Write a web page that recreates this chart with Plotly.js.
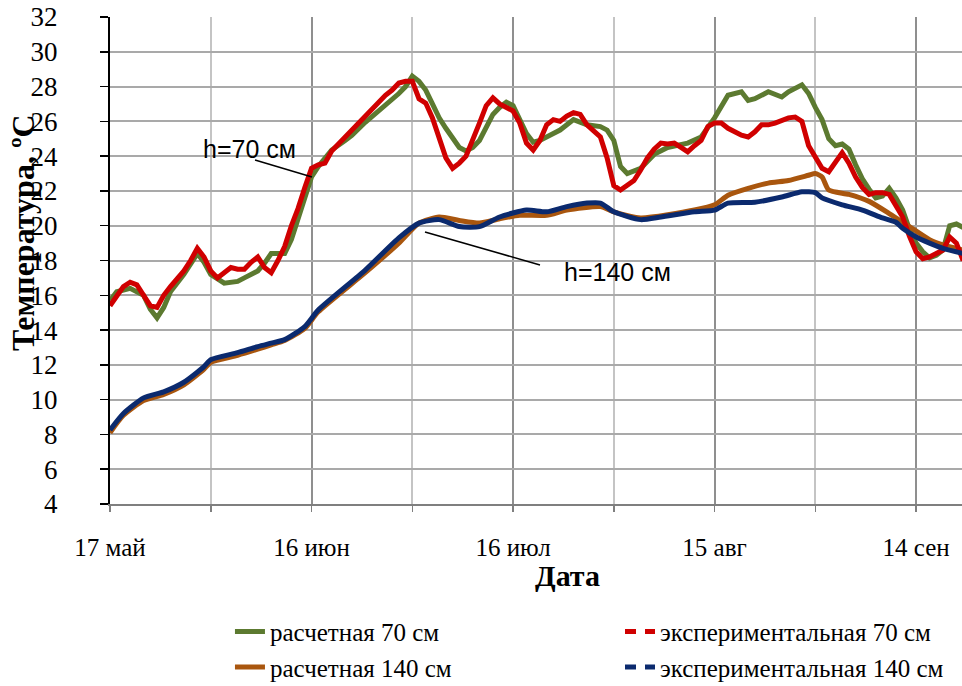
<!DOCTYPE html>
<html>
<head>
<meta charset="utf-8">
<script src="https://cdn.plot.ly/plotly-3.0.1.min.js"></script>
<style>html,body{margin:0;padding:0;background:#fff;}#chart{width:962px;height:686px;}</style>
</head>
<body>
<div id="chart"></div>
<script>
// ---- data ----
const calc70Dates = ['2013-05-17','2013-05-18','2013-05-20','2013-05-22','2013-05-23','2013-05-24','2013-05-25','2013-05-26','2013-05-28','2013-05-29','2013-05-30','2013-05-31','2013-06-01','2013-06-03','2013-06-05','2013-06-06','2013-06-08','2013-06-09','2013-06-10','2013-06-12','2013-06-13','2013-06-14','2013-06-15','2013-06-16','2013-06-17','2013-06-19','2013-06-21','2013-06-22','2013-06-24','2013-06-27','2013-06-29','2013-06-30','2013-07-01','2013-07-02','2013-07-03','2013-07-04','2013-07-05','2013-07-06','2013-07-07','2013-07-08','2013-07-09','2013-07-10','2013-07-11','2013-07-12','2013-07-13','2013-07-14','2013-07-15','2013-07-16','2013-07-17','2013-07-18','2013-07-19','2013-07-20','2013-07-22','2013-07-23','2013-07-25','2013-07-27','2013-07-29','2013-07-30','2013-07-31','2013-08-01','2013-08-02','2013-08-04','2013-08-06','2013-08-08','2013-08-11','2013-08-13','2013-08-15','2013-08-16','2013-08-17','2013-08-19','2013-08-20','2013-08-21','2013-08-23','2013-08-25','2013-08-26','2013-08-28','2013-08-29','2013-08-30','2013-08-31','2013-09-01','2013-09-02','2013-09-03','2013-09-04','2013-09-05','2013-09-06','2013-09-07','2013-09-08','2013-09-09','2013-09-10','2013-09-11','2013-09-12','2013-09-13','2013-09-14','2013-09-15','2013-09-16','2013-09-17','2013-09-18','2013-09-19','2013-09-20','2013-09-21'];
const calc70Vals = [15.7,16.2,16.4,16.0,15.2,14.7,15.3,16.2,17.2,17.8,18.4,17.9,17.2,16.7,16.8,17.0,17.4,17.85,18.4,18.4,19.2,20.4,21.65,22.8,23.4,24.35,24.9,25.2,25.95,26.9,27.6,28.0,28.6,28.3,27.8,27.0,26.2,25.6,25.0,24.5,24.3,24.5,24.9,25.7,26.4,26.8,27.1,26.9,26.1,25.3,24.8,24.9,25.3,25.5,26.1,25.8,25.7,25.5,24.9,23.4,23.0,23.3,24.1,24.5,24.75,25.1,26.2,26.8,27.5,27.7,27.2,27.3,27.7,27.4,27.7,28.1,27.6,26.8,26.1,25.0,24.6,24.7,24.4,23.5,22.7,22.1,21.6,21.7,22.15,21.6,20.9,19.8,19.0,18.5,18.15,18.3,18.6,20.0,20.1,19.9];

const exp70Dates = ['2013-05-17','2013-05-18','2013-05-19','2013-05-20','2013-05-21','2013-05-22','2013-05-23','2013-05-24','2013-05-25','2013-05-26','2013-05-27','2013-05-28','2013-05-29','2013-05-30','2013-05-31','2013-06-01','2013-06-02','2013-06-03','2013-06-04','2013-06-05','2013-06-06','2013-06-07','2013-06-08','2013-06-09','2013-06-10','2013-06-11','2013-06-12','2013-06-13','2013-06-14','2013-06-15','2013-06-16','2013-06-17','2013-06-18','2013-06-19','2013-06-20','2013-06-21','2013-06-22','2013-06-23','2013-06-24','2013-06-25','2013-06-26','2013-06-27','2013-06-28','2013-06-29','2013-06-30','2013-07-01','2013-07-02','2013-07-03','2013-07-04','2013-07-05','2013-07-06','2013-07-07','2013-07-08','2013-07-09','2013-07-10','2013-07-11','2013-07-12','2013-07-13','2013-07-14','2013-07-15','2013-07-16','2013-07-17','2013-07-18','2013-07-19','2013-07-20','2013-07-21','2013-07-22','2013-07-23','2013-07-24','2013-07-25','2013-07-26','2013-07-27','2013-07-28','2013-07-29','2013-07-30','2013-07-31','2013-08-01','2013-08-02','2013-08-03','2013-08-04','2013-08-05','2013-08-06','2013-08-07','2013-08-08','2013-08-09','2013-08-10','2013-08-11','2013-08-12','2013-08-13','2013-08-14','2013-08-15','2013-08-16','2013-08-17','2013-08-18','2013-08-19','2013-08-20','2013-08-21','2013-08-22','2013-08-23','2013-08-24','2013-08-26','2013-08-27','2013-08-28','2013-08-29','2013-08-30','2013-08-31','2013-09-01','2013-09-02','2013-09-03','2013-09-04','2013-09-05','2013-09-06','2013-09-07','2013-09-08','2013-09-09','2013-09-10','2013-09-11','2013-09-12','2013-09-13','2013-09-14','2013-09-15','2013-09-16','2013-09-17','2013-09-18','2013-09-19','2013-09-20','2013-09-21'];
const exp70Vals = [15.4,16.0,16.5,16.75,16.6,16.0,15.4,15.3,16.0,16.5,16.9,17.4,18.0,18.7,18.2,17.4,17.0,17.3,17.6,17.5,17.5,17.9,18.2,17.6,17.3,18.0,18.8,20.0,21.0,22.2,23.3,23.5,23.6,24.3,24.7,25.1,25.5,25.9,26.4,26.7,27.1,27.5,27.8,28.2,28.3,28.3,27.3,27.05,26.2,25.0,23.9,23.3,23.6,24.0,24.9,25.9,26.9,27.35,27.0,26.8,26.6,25.9,24.75,24.35,24.9,25.8,26.1,26.0,26.3,26.5,26.4,25.8,25.4,25.1,23.9,22.3,22.05,22.3,22.6,23.2,23.9,24.4,24.75,24.7,24.75,24.5,24.25,24.6,24.9,25.7,25.9,25.9,25.6,25.4,25.2,25.1,25.4,25.8,25.8,25.9,26.2,26.25,26.0,24.6,23.9,23.3,23.1,23.6,24.2,23.6,22.8,22.2,21.8,21.9,21.9,21.8,21.2,20.5,19.4,18.5,18.1,18.2,18.4,18.6,19.35,19.0,18.0];

const calc140Dates = ['2013-05-17','2013-05-19','2013-05-22','2013-05-25','2013-05-28','2013-05-31','2013-06-01','2013-06-05','2013-06-08','2013-06-10','2013-06-12','2013-06-15','2013-06-17','2013-06-24','2013-06-29','2013-07-02','2013-07-05','2013-07-08','2013-07-11','2013-07-14','2013-07-17','2013-07-21','2013-07-24','2013-07-29','2013-07-31','2013-08-04','2013-08-12','2013-08-15','2013-08-17','2013-08-20','2013-08-23','2013-08-26','2013-08-29','2013-08-30','2013-08-31','2013-09-01','2013-09-04','2013-09-07','2013-09-10','2013-09-13','2013-09-16','2013-09-18','2013-09-21'];
const calc140Vals = [8.1,9.1,9.95,10.3,10.85,11.75,12.15,12.55,12.9,13.15,13.4,14.1,15.05,17.3,19.0,20.15,20.5,20.3,20.15,20.4,20.6,20.6,20.9,21.1,20.8,20.45,20.9,21.2,21.75,22.15,22.45,22.6,22.9,23.0,22.8,22.05,21.8,21.4,20.7,19.95,19.2,18.9,18.6];

const exp140Dates = ['2013-05-17','2013-05-19','2013-05-22','2013-05-25','2013-05-28','2013-05-31','2013-06-01','2013-06-05','2013-06-08','2013-06-10','2013-06-12','2013-06-15','2013-06-17','2013-06-24','2013-06-29','2013-07-02','2013-07-05','2013-07-08','2013-07-11','2013-07-14','2013-07-18','2013-07-21','2013-07-24','2013-07-27','2013-07-29','2013-07-31','2013-08-04','2013-08-07','2013-08-12','2013-08-15','2013-08-17','2013-08-21','2013-08-25','2013-08-28','2013-08-30','2013-08-31','2013-09-03','2013-09-06','2013-09-09','2013-09-11','2013-09-12','2013-09-14','2013-09-16','2013-09-18','2013-09-21'];
const exp140Vals = [8.25,9.2,10.1,10.45,11.0,11.9,12.3,12.7,13.05,13.25,13.45,14.2,15.15,17.45,19.3,20.15,20.35,19.95,19.95,20.5,20.9,20.8,21.1,21.3,21.3,20.8,20.35,20.5,20.8,20.9,21.3,21.35,21.65,21.95,21.9,21.6,21.2,20.9,20.45,20.2,19.85,19.35,19.0,18.7,18.4];

const seriesNames = ['расчетная 70 см','экспериментальная 70 см','расчетная 140 см','экспериментальная 140 см'];
const majorTickVals = ['2013-05-17','2013-06-16','2013-07-16','2013-08-15','2013-09-14'];
const majorTickText = ['17 май','16 июн','16 июл','15 авг','14 сен'];
const minorTickVals = ['2013-06-01','2013-07-01','2013-07-31','2013-08-30'];

// ---- styles ----
const C_GREEN = '#5c7a30', C_RED = '#d00000', C_BROWN = '#a9560e', C_BLUE = '#0b2a6e';
const SERIF = '"Times New Roman", "Liberation Serif", serif';
const LW = 5;

const traces = [
  {x: calc70Dates, y: calc70Vals, name: seriesNames[0], mode: 'lines', line: {color: C_GREEN, width: LW}, legend: 'legend', legendrank: 1},
  {x: calc140Dates, y: calc140Vals, name: seriesNames[2], mode: 'lines', line: {color: C_BROWN, width: LW, shape: 'spline', smoothing: 0.6}, legend: 'legend', legendrank: 2},
  {x: exp70Dates, y: exp70Vals, name: seriesNames[1], mode: 'lines', line: {color: C_RED, width: LW}, showlegend: false},
  {x: exp140Dates, y: exp140Vals, name: seriesNames[3], mode: 'lines', line: {color: C_BLUE, width: LW, shape: 'spline', smoothing: 0.6}, showlegend: false},
  {x: [null], y: [null], name: seriesNames[1], mode: 'lines', line: {color: C_RED, width: LW, dash: '11px,9px'}, legend: 'legend2', legendrank: 1, hoverinfo: 'skip'},
  {x: [null], y: [null], name: seriesNames[3], mode: 'lines', line: {color: C_BLUE, width: LW, dash: '11px,9px'}, legend: 'legend2', legendrank: 2, hoverinfo: 'skip'}
];

const legendFont = {family: SERIF, size: 25, color: '#000'};
const layout = {
  width: 962, height: 686,
  margin: {l: 110, r: 0, t: 17, b: 182, autoexpand: false},
  paper_bgcolor: '#ffffff', plot_bgcolor: '#ffffff',
  font: {family: SERIF, color: '#000'},
  showlegend: true,
  legend: {orientation: 'v', x: 0.1408, xanchor: 'left', y: -0.215, yanchor: 'top', font: legendFont, bgcolor: 'rgba(0,0,0,0)', traceorder: 'normal'},
  legend2: {orientation: 'v', x: 0.5986, xanchor: 'left', y: -0.215, yanchor: 'top', font: legendFont, bgcolor: 'rgba(0,0,0,0)', traceorder: 'normal'},
  xaxis: {
    type: 'date',
    range: ['2013-05-17', '2013-09-20 20:00'],
    tickmode: 'array', tickvals: majorTickVals, ticktext: majorTickText,
    tickfont: {family: SERIF, size: 25, color: '#000'},
    ticks: 'outside', ticklen: 6, tickwidth: 1.5, tickcolor: '#7f7f7f',
    ticklabelstandoff: 14,
    showgrid: true, gridcolor: '#8f8f8f', gridwidth: 2,
    minor: {tickmode: 'array', tickvals: minorTickVals, ticks: 'outside', ticklen: 6, tickwidth: 1.5, tickcolor: '#7f7f7f', showgrid: true, gridcolor: '#c4c4c4', gridwidth: 2},
    showline: true, linecolor: '#7f7f7f', linewidth: 2,
    zeroline: false, fixedrange: true
  },
  yaxis: {
    range: [4, 32], tickmode: 'linear', tick0: 4, dtick: 2,
    tickfont: {family: SERIF, size: 27, color: '#000'},
    ticks: 'outside', ticklen: 8, tickwidth: 1.5, tickcolor: '#000',
    ticklabelstandoff: 37,
    showgrid: true, gridcolor: '#a9a9a9', gridwidth: 2,
    showline: true, linecolor: '#000', linewidth: 2,
    zeroline: false, fixedrange: true
  },
  shapes: [
    {type: 'line', xref: 'paper', yref: 'paper', x0: 0.1702, y0: 0.7064, x1: 0.2371, y1: 0.6715, line: {color: '#000', width: 1.5}},
    {type: 'line', xref: 'paper', yref: 'paper', x0: 0.5047, y0: 0.4908, x1: 0.3697, y1: 0.5585, line: {color: '#000', width: 1.5}}
  ],
  annotations: [
    {text: 'h=70 см', xref: 'paper', yref: 'paper', x: 0.1643, y: 0.7290, showarrow: false, xanchor: 'center', yanchor: 'middle', font: {family: '"Liberation Sans", Arial, sans-serif', size: 25, color: '#000'}},
    {text: 'h=140 см', xref: 'paper', yref: 'paper', x: 0.5951, y: 0.4764, showarrow: false, xanchor: 'center', yanchor: 'middle', font: {family: '"Liberation Sans", Arial, sans-serif', size: 25, color: '#000'}},
    {text: '<b>Дата</b>', xref: 'paper', yref: 'paper', x: 0.5364, y: -0.1458, showarrow: false, xanchor: 'center', yanchor: 'middle', font: {family: SERIF, size: 30, color: '#000'}},
    {text: '<b>Температура, ºС</b>', xref: 'paper', yref: 'paper', x: -0.1022, y: 0.5585, showarrow: false, textangle: -90, xanchor: 'center', yanchor: 'middle', font: {family: SERIF, size: 32, color: '#000'}}
  ]
};

Plotly.newPlot('chart', traces, layout, {staticPlot: true, displayModeBar: false});
</script>
</body>
</html>
